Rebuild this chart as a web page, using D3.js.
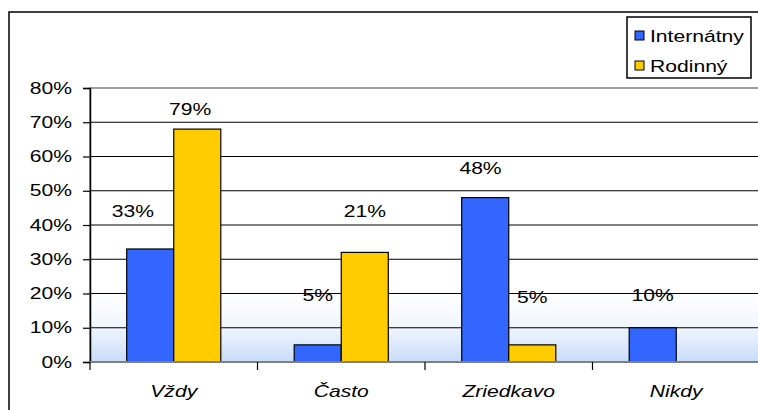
<!DOCTYPE html>
<html>
<head>
<meta charset="utf-8">
<script src="https://cdn.jsdelivr.net/npm/d3@7"></script>
<style>
  html, body { margin: 0; padding: 0; background: #fff; }
  svg { display: block; font-family: "Liberation Sans", Arial, sans-serif; }
</style>
</head>
<body>
<svg id="chart" width="758" height="410"></svg>
<script>
// data
const categories = ["Vždy", "Často", "Zriedkavo", "Nikdy"];
const seriesNames = ["Internátny", "Rodinný"];
const internatny = [33, 5, 48, 10];
const rodinny = [68, 32, 5, null];
// the printed labels do not match the bar heights in the original
const labelsInternatny = ["33%", "5%", "48%", "10%"];
const labelsRodinny = ["79%", "21%", "5%", ""];
// level (in %) where each label sits
const labelLevelInternatny = [44, 19.5, 56.5, 19.5];
const labelLevelRodinny = [74, 44, 19, null];
const yTicks = [0, 10, 20, 30, 40, 50, 60, 70, 80];

const colors = { "Internátny": "#3366ff", "Rodinný": "#ffcc00" };
const stretch = 1.32; // text in the source is stretched sideways
// a couple of labels were dragged sideways in the source (fraction of bar width)
const labelNudge = { "Vždy|Internátny": -0.37, "Vždy|Rodinný": -0.15, "Zriedkavo|Internátny": -0.1 };

const svg = d3.select("#chart");

const plotLeft = 90, plotRight = 760, plotTop = 88, plotBottom = 362;

const x = d3.scaleBand().domain(categories).range([plotLeft, plotRight]);
const xs = d3.scaleBand().domain(seriesNames).range([0, x.bandwidth()]).paddingOuter(0.78);
const y = d3.scaleLinear().domain([0, 80]).range([plotBottom, plotTop]);

// stretched text helper
const text = (g, tx, ty, str, anchor = "middle", size = 16, italic = false) => {
  return g.append("text")
    .attr("transform", `translate(${tx},${ty}) scale(${stretch},1)`)
    .attr("text-anchor", anchor)
    .style("font-size", size + "px")
    .style("font-style", italic ? "italic" : "normal")
    .attr("fill", "#000")
    .text(str);
};

// outer frame
svg.append("rect")
  .attr("x", 9).attr("y", 12)
  .attr("width", 770).attr("height", 420)
  .attr("fill", "#fff")
  .attr("stroke", "#000")
  .attr("stroke-width", 1.5);

// plot background gradient
const grad = svg.append("defs").append("linearGradient")
  .attr("id", "bg")
  .attr("gradientUnits", "userSpaceOnUse")
  .attr("x1", 0).attr("x2", 0)
  .attr("y1", y(20)).attr("y2", y(0));
grad.append("stop").attr("offset", 0).attr("stop-color", "#ffffff");
grad.append("stop").attr("offset", 0.5).attr("stop-color", "#f0f5fe");
grad.append("stop").attr("offset", 1).attr("stop-color", "#c8dcf8");

svg.append("rect")
  .attr("x", plotLeft).attr("y", plotTop)
  .attr("width", plotRight - plotLeft).attr("height", plotBottom - plotTop)
  .attr("fill", "url(#bg)")
  .attr("stroke", "#808080")
  .attr("stroke-width", 1.5);

// gridlines
svg.append("g").selectAll("line")
  .data(yTicks.filter(d => d > 0 && d < 80))
  .join("line")
  .attr("x1", plotLeft).attr("x2", plotRight)
  .attr("y1", d => y(d)).attr("y2", d => y(d))
  .attr("stroke", "#000")
  .attr("stroke-width", 1);

// bars
const groups = svg.append("g").selectAll("g")
  .data(categories)
  .join("g")
  .attr("transform", d => `translate(${x(d)},0)`);

const barData = (i) => [
  { s: "Internátny", v: internatny[i] },
  { s: "Rodinný", v: rodinny[i] }
].filter(d => d.v != null);

groups.selectAll("rect")
  .data((d, i) => barData(i))
  .join("rect")
  .attr("x", d => xs(d.s))
  .attr("width", xs.bandwidth())
  .attr("y", d => y(d.v))
  .attr("height", d => y(0) - y(d.v))
  .attr("fill", d => colors[d.s])
  .attr("stroke", "#000")
  .attr("stroke-width", 1.2);

// data labels
const labelG = svg.append("g");
categories.forEach((c, i) => {
  const items = [
    { s: "Internátny", t: labelsInternatny[i], lv: labelLevelInternatny[i] },
    { s: "Rodinný", t: labelsRodinny[i], lv: labelLevelRodinny[i] }
  ];
  items.forEach(it => {
    if (!it.t) return;
    const nudge = (labelNudge[c + "|" + it.s] || 0) * xs.bandwidth();
    const cx = x(c) + xs(it.s) + xs.bandwidth() / 2 + nudge;
    text(labelG, cx, y(it.lv) + 6, it.t);
  });
});

// y axis
const yAxis = svg.append("g")
  .attr("transform", `translate(${plotLeft},0)`)
  .call(d3.axisLeft(y).tickValues(yTicks).tickFormat(d => d + "%").tickSize(7));
yAxis.select(".domain").attr("stroke", "#000").attr("stroke-width", 1.5);
yAxis.selectAll(".tick line").attr("stroke", "#000").attr("stroke-width", 1.2);
yAxis.selectAll(".tick text")
  .attr("x", -18 / stretch)
  .attr("transform", `scale(${stretch},1)`)
  .attr("fill", "#000")
  .style("font-size", "16px")
  .style("font-family", "Liberation Sans, Arial, sans-serif");

// 0% baseline
svg.append("line")
  .attr("x1", plotLeft).attr("x2", plotRight)
  .attr("y1", y(0)).attr("y2", y(0))
  .attr("stroke", "#808080")
  .attr("stroke-width", 2);

// category ticks between groups
svg.append("g").selectAll("line")
  .data(categories)
  .join("line")
  .attr("x1", d => x(d)).attr("x2", d => x(d))
  .attr("y1", y(0)).attr("y2", y(0) + 8)
  .attr("stroke", "#000")
  .attr("stroke-width", 1.2);

// category labels
const catG = svg.append("g");
categories.forEach(c => {
  text(catG, x(c) + x.bandwidth() / 2, 397, c, "middle", 16, true);
});

// legend
const lg = svg.append("g");
lg.append("rect")
  .attr("x", 627).attr("y", 17)
  .attr("width", 124).attr("height", 61)
  .attr("fill", "#fff")
  .attr("stroke", "#000")
  .attr("stroke-width", 1.5);
seriesNames.forEach((s, i) => {
  const cy = 36 + i * 30;
  lg.append("rect")
    .attr("x", 635).attr("y", cy - 5)
    .attr("width", 9).attr("height", 9)
    .attr("fill", colors[s])
    .attr("stroke", "#000")
    .attr("stroke-width", 1);
  text(lg, 650, cy + 6, s, "start");
});
</script>
</body>
</html>
